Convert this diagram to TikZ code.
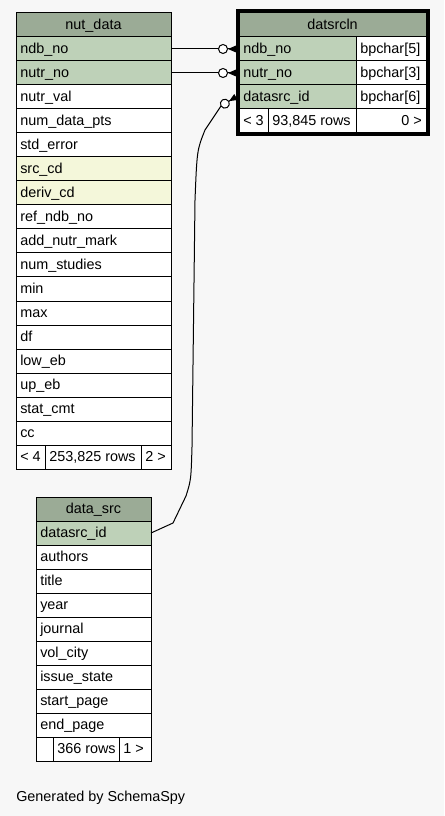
\documentclass[tikz,border=0pt]{standalone}
\usepackage{fontspec}
\setmainfont{Liberation Sans}
\usetikzlibrary{arrows.meta}
\definecolor{bgc}{HTML}{F7F7F7}
\definecolor{hdrc}{HTML}{9BAB96}
\definecolor{pkc}{HTML}{BED1B8}
\definecolor{ixc}{HTML}{F4F7DA}
\tikzset{
  cellbox/.style={draw=black, line width=0.75pt, anchor=north west, minimum height=18pt, inner sep=0pt, outer sep=0pt},
  ctext/.style={inner sep=0pt, font=\fontsize{10.8}{13}\selectfont, text=black},
  hdr/.style={fill=hdrc}, pk/.style={fill=pkc}, ix/.style={fill=ixc}, plain/.style={fill=white},
  fk/.style={line width=0.75pt, -{Circle[open,fill=white,length=7.5pt,width=7.5pt,line width=0.75pt]Triangle[reversed,length=6pt,width=5pt]}}
}
\newcommand\lcell[6]{\node[cellbox,#5,minimum width={#4*0.75pt}] (#1) at (#2,#3) {};
  \node[ctext,anchor=base west] (#1t) at ([xshift=3pt,yshift=5.6pt]#1.south west) {#6};}
\newcommand\ccell[6]{\node[cellbox,#5,minimum width={#4*0.75pt}] (#1) at (#2,#3) {};
  \node[ctext,anchor=base] (#1t) at ([yshift=5.6pt]#1.south) {#6};}
\newcommand\rcell[6]{\node[cellbox,#5,minimum width={#4*0.75pt}] (#1) at (#2,#3) {};
  \node[ctext,anchor=base east] (#1t) at ([xshift=-3pt,yshift=5.6pt]#1.south east) {#6};}
\begin{document}
\begin{tikzpicture}[x=0.75pt,y=-0.75pt]
\fill[bgc] (0,0) rectangle (444,816);
\useasboundingbox (0,0) rectangle (444,816);
% nut_data
\ccell{ndh}{16}{13}{155}{hdr}{nut\_data}
\lcell{nd0}{16}{37}{155}{pk}{ndb\_no}
\lcell{nd1}{16}{61}{155}{pk}{nutr\_no}
\lcell{nd2}{16}{85}{155}{plain}{nutr\_val}
\lcell{nd3}{16}{109}{155}{plain}{num\_data\_pts}
\lcell{nd4}{16}{133}{155}{plain}{std\_error}
\lcell{nd5}{16}{157}{155}{ix}{src\_cd}
\lcell{nd6}{16}{181}{155}{ix}{deriv\_cd}
\lcell{nd7}{16}{205}{155}{plain}{ref\_ndb\_no}
\lcell{nd8}{16}{229}{155}{plain}{add\_nutr\_mark}
\lcell{nd9}{16}{253}{155}{plain}{num\_studies}
\lcell{nd10}{16}{277}{155}{plain}{min}
\lcell{nd11}{16}{301}{155}{plain}{max}
\lcell{nd12}{16}{325}{155}{plain}{df}
\lcell{nd13}{16}{349}{155}{plain}{low\_eb}
\lcell{nd14}{16}{373}{155}{plain}{up\_eb}
\lcell{nd15}{16}{397}{155}{plain}{stat\_cmt}
\lcell{nd16}{16}{421}{155}{plain}{cc}
\lcell{ndf1}{16}{445}{29}{plain}{< 4}
\lcell{ndf2}{45}{445}{96}{plain}{253,825 rows}
\lcell{ndf3}{141}{445}{30}{plain}{2 >}
% datsrcln
\ccell{dlh}{239}{13}{187}{hdr}{datsrcln}
\lcell{dl0}{239}{37}{117}{pk}{ndb\_no}
\lcell{dl0b}{356}{37}{70}{plain}{bpchar[5]}
\lcell{dl1}{239}{61}{117}{pk}{nutr\_no}
\lcell{dl1b}{356}{61}{70}{plain}{bpchar[3]}
\lcell{dl2}{239}{85}{117}{pk}{datasrc\_id}
\lcell{dl2b}{356}{85}{70}{plain}{bpchar[6]}
\lcell{dlf1}{239}{109}{29}{plain}{< 3}
\lcell{dlf2}{268}{109}{88}{plain}{93,845 rows}
\rcell{dlf3}{356}{109}{70}{plain}{0 >}
\draw[line width=2.25pt] (237,11) rectangle (428,135);
% data_src
\ccell{dsh}{36}{497}{115}{hdr}{data\_src}
\lcell{ds0}{36}{521}{115}{pk}{datasrc\_id}
\lcell{ds1}{36}{545}{115}{plain}{authors}
\lcell{ds2}{36}{569}{115}{plain}{title}
\lcell{ds3}{36}{593}{115}{plain}{year}
\lcell{ds4}{36}{617}{115}{plain}{journal}
\lcell{ds5}{36}{641}{115}{plain}{vol\_city}
\lcell{ds6}{36}{665}{115}{plain}{issue\_state}
\lcell{ds7}{36}{689}{115}{plain}{start\_page}
\lcell{ds8}{36}{713}{115}{plain}{end\_page}
\node[cellbox,plain,minimum width={17*0.75pt}] (dsf1) at (36,737) {};
\lcell{dsf2}{53}{737}{66}{plain}{366 rows}
\lcell{dsf3}{119}{737}{32}{plain}{1 >}
% connectors
\draw[fk] (nd0.east) -- ([xshift=-2.25pt]dl0.west);
\draw[fk] (nd1.east) -- ([xshift=-2.25pt]dl1.west);
\draw[fk] (ds0.east) -- (173,523) -- (186,496) .. controls (191,480) .. (192,447)
  -- (195,200) .. controls (197,150) .. (205,130) -- (221,106) -- ([xshift=-2.25pt]dl2.west);
% caption
\node[ctext,anchor=base west] (gen) at (16,801) {Generated by SchemaSpy};
\end{tikzpicture}
\end{document}
